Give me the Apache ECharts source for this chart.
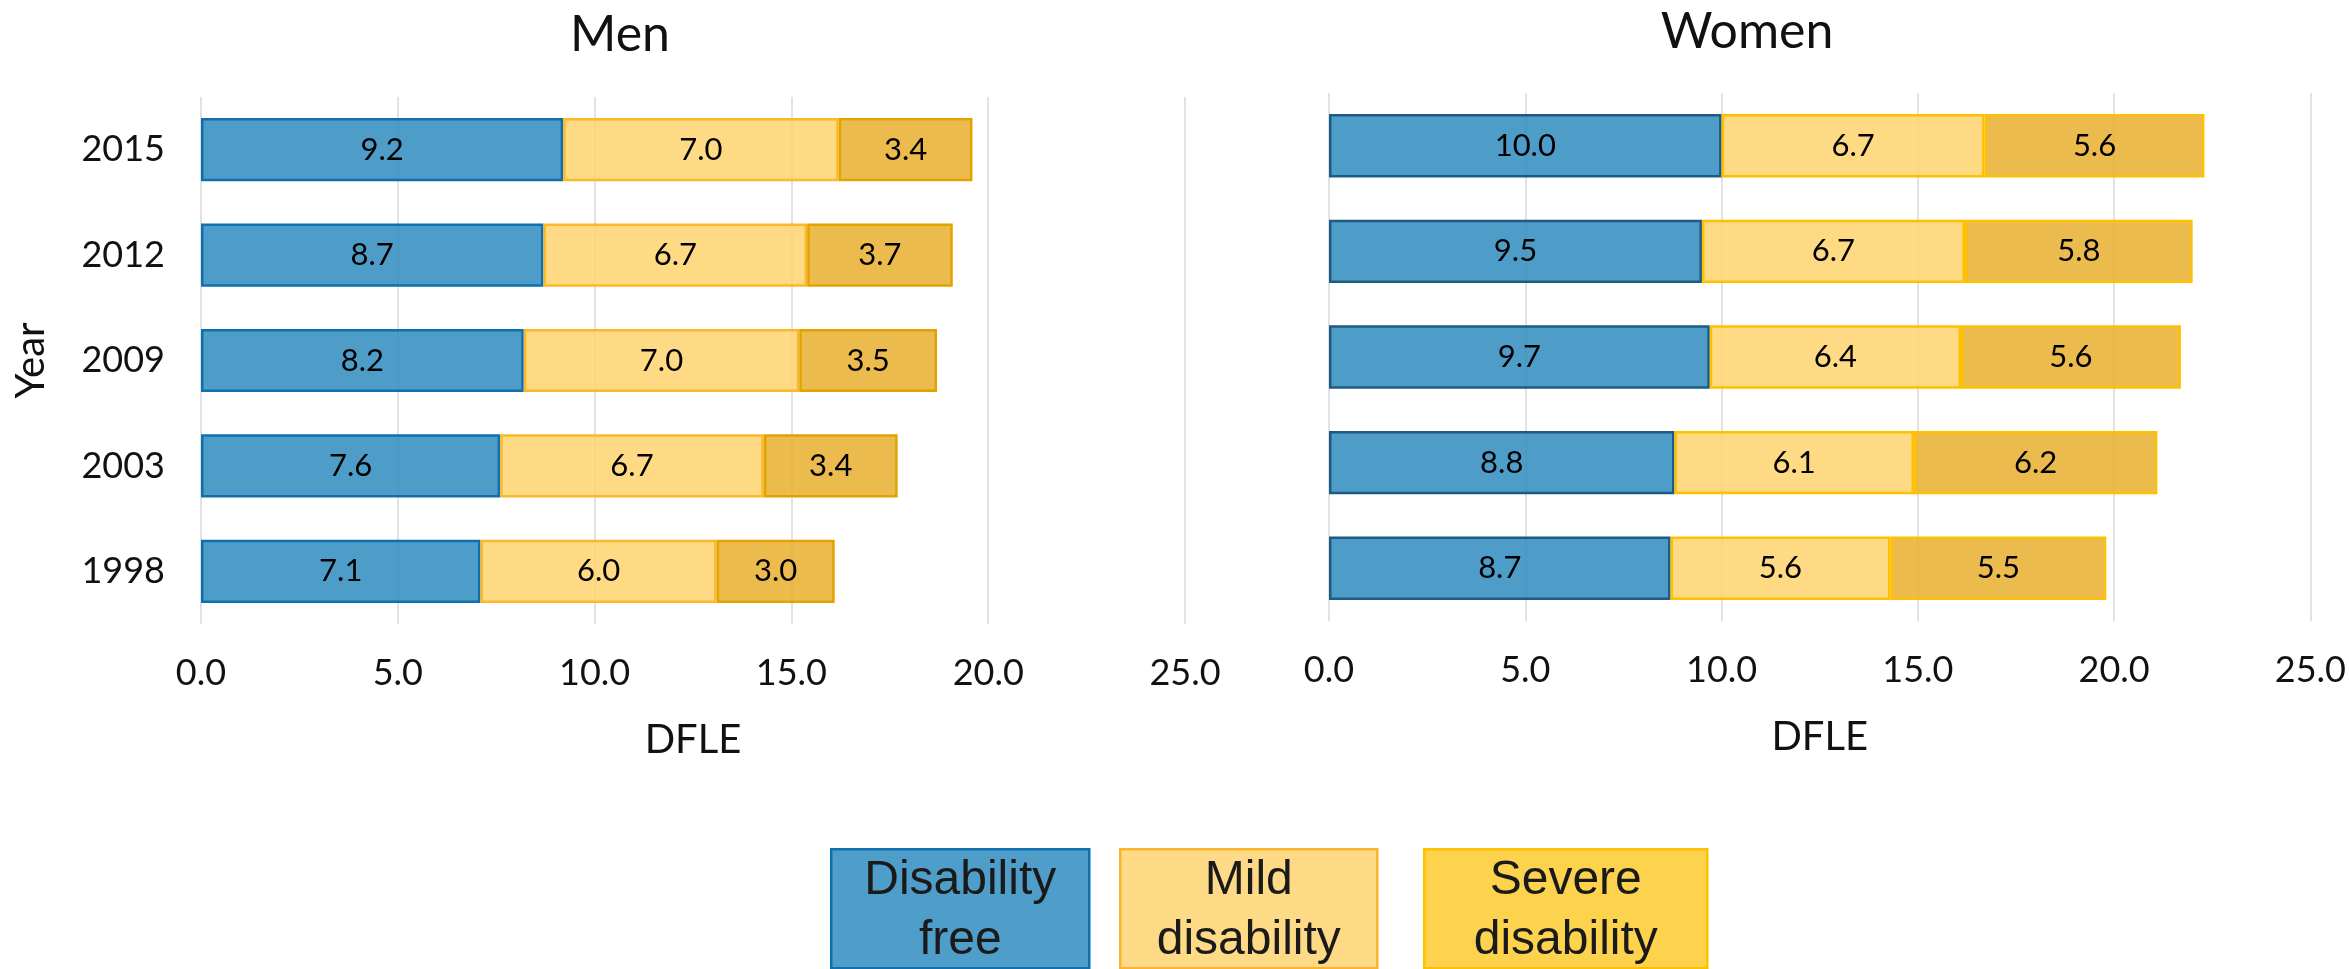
<!DOCTYPE html>
<html>
<head>
<meta charset="utf-8">
<title>DFLE by year</title>
<script src="https://cdn.jsdelivr.net/npm/echarts@6/dist/echarts.min.js"></script>
<style>
  html, body { margin: 0; padding: 0; background: #ffffff; }
  #chart { width: 2349px; height: 969px; }
</style>
</head>
<body>
<div id="chart"></div>
<script>
// Survey years, bottom to top
const years = ['1998', '2003', '2009', '2012', '2015'];

// Men: years of life by disability state
const menFree   = [7.1, 7.6, 8.2, 8.7, 9.2];
const menMild   = [6.0, 6.7, 7.0, 6.7, 7.0];
const menSevere = [3.0, 3.4, 3.5, 3.7, 3.4];

// Women: years of life by disability state
const womenFree   = [8.7, 8.8, 9.7, 9.5, 10.0];
const womenMild   = [5.6, 6.1, 6.4, 6.7, 6.7];
const womenSevere = [5.5, 6.2, 5.6, 5.8, 5.6];

const panelTitles = ['Men', 'Women'];
const legendLabels = ['Disability\nfree', 'Mild\ndisability', 'Severe\ndisability'];
const axisMin = 0, axisMax = 25, axisStep = 5;

const FONT = 'Lato, "Open Sans", sans-serif';
const fills = {
  free: 'rgba(47,140,192,0.85)',
  mild: 'rgba(255,211,112,0.85)',
  severe: 'rgba(233,175,47,0.85)'
};

const chart = echarts.init(document.getElementById('chart'), null, { renderer: 'canvas' });

function valueAxis(idx) {
  return {
    type: 'value', gridIndex: idx, min: axisMin, max: axisMax, interval: axisStep,
    name: 'DFLE', nameLocation: 'middle', nameGap: 96,
    nameTextStyle: { fontFamily: FONT, fontSize: 40, color: '#111' },
    axisLine: { show: false }, axisTick: { show: false },
    axisLabel: { fontFamily: FONT, fontSize: 36, color: '#111', margin: 31,
                 formatter: v => v.toFixed(1) },
    splitLine: { show: true, lineStyle: { color: '#d9d9d9', width: 1.5 } }
  };
}

function catAxis(idx, showLabels) {
  return {
    type: 'category', gridIndex: idx, data: years,
    name: showLabels ? 'Year' : '', nameLocation: 'middle', nameGap: 150,
    nameTextStyle: { fontFamily: FONT, fontSize: 40, color: '#111' },
    axisLine: { show: false }, axisTick: { show: false },
    axisLabel: { show: showLabels, fontFamily: FONT, fontSize: 36, color: '#111', margin: 36 }
  };
}

function barSeries(name, data, idx, fill, border) {
  return {
    name, type: 'bar', stack: 'total' + idx, data,
    xAxisIndex: idx, yAxisIndex: idx,
    barCategoryGap: '40%',
    itemStyle: { color: fill, borderColor: border, borderWidth: 2.5 },
    label: { show: true, position: 'inside', fontFamily: FONT, fontSize: 31, color: '#000',
             formatter: p => p.value.toFixed(1) },
    emphasis: { disabled: true }
  };
}

// Legend boxes built from the label list
const legendBoxes = [
  { x: 830, w: 258, fill: '#4f9dc9', stroke: '#1170b0' },
  { x: 1119, w: 257, fill: '#fed986', stroke: '#fbb52a' },
  { x: 1423, w: 283, fill: '#fdd34d', stroke: '#ffc000' }
];
const legendGraphics = legendBoxes.map((b, i) => ({
  type: 'group', left: b.x, top: 848,
  children: [
    { type: 'rect', shape: { x: 0, y: 0, width: b.w, height: 119 },
      style: { fill: b.fill, stroke: b.stroke, lineWidth: 2.5 } },
    { type: 'text', x: b.w / 2, y: 62,
      style: { text: legendLabels[i], fontFamily: '"Liberation Sans", Arial, sans-serif',
               fontSize: 48, lineHeight: 60, fill: '#1a1a1a', align: 'center', verticalAlign: 'middle' } }
  ]
}));

chart.setOption({
  animation: false,
  backgroundColor: '#ffffff',
  title: [
    { text: panelTitles[0], left: 620, top: 35, textAlign: 'center', textVerticalAlign: 'middle', padding: 0,
      textStyle: { fontFamily: FONT, fontSize: 50, fontWeight: 'normal', color: '#111' } },
    { text: panelTitles[1], left: 1747, top: 32, textAlign: 'center', textVerticalAlign: 'middle', padding: 0,
      textStyle: { fontFamily: FONT, fontSize: 50, fontWeight: 'normal', color: '#111' } }
  ],
  grid: [
    { left: 201, top: 97, width: 984, height: 527, containLabel: false },
    { left: 1329, top: 93, width: 984, height: 528, containLabel: false }
  ],
  xAxis: [valueAxis(0), valueAxis(1)],
  yAxis: [catAxis(0, true), catAxis(1, false)],
  series: [
    barSeries('Disability free', menFree, 0, fills.free, '#0f6fb0'),
    barSeries('Mild disability', menMild, 0, fills.mild, '#fbb829'),
    barSeries('Severe disability', menSevere, 0, fills.severe, '#e3a200'),
    barSeries('Disability free', womenFree, 1, fills.free, '#1e5b82'),
    barSeries('Mild disability', womenMild, 1, fills.mild, '#ffc000'),
    barSeries('Severe disability', womenSevere, 1, fills.severe, '#ffc000')
  ],
  graphic: legendGraphics
});
</script>
</body>
</html>
